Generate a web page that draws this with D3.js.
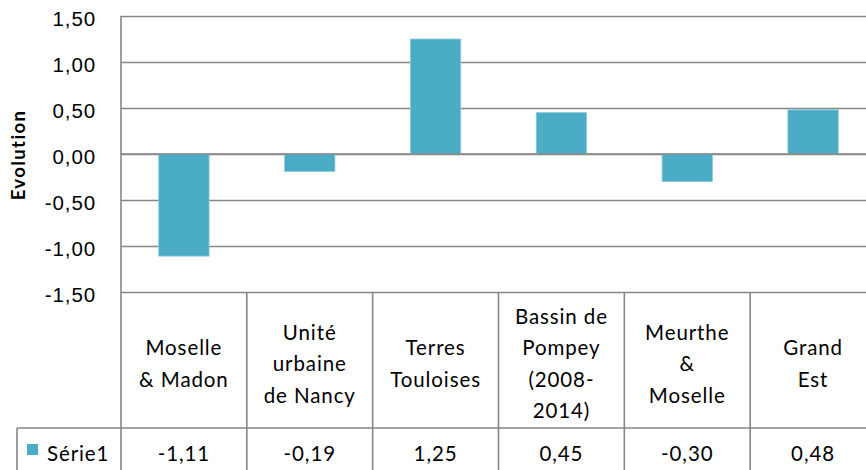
<!DOCTYPE html>
<html>
<head>
<meta charset="utf-8">
<script src="https://cdn.jsdelivr.net/npm/d3@7"></script>
<style>
    body { margin: 0; background: #fff; }
    svg { display: block; font-family: Lato, "Open Sans", sans-serif; }
    text { fill: #000; }
</style>
</head>
<body>
<svg id="chart" width="866" height="470"></svg>
<script>
// data
const categories = ["Moselle & Madon", "Unité urbaine de Nancy", "Terres Touloises",
    "Bassin de Pompey (2008-2014)", "Meurthe & Moselle", "Grand Est"];
const categoryLines = [
    ["Moselle", "& Madon"],
    ["Unité", "urbaine", "de Nancy"],
    ["Terres", "Touloises"],
    ["Bassin de", "Pompey", "(2008-", "2014)"],
    ["Meurthe", "&", "Moselle"],
    ["Grand", "Est"]
];
const values = [-1.11, -0.19, 1.25, 0.45, -0.30, 0.48];
const yTicks = [-1.5, -1.0, -0.5, 0, 0.5, 1.0, 1.5];
const seriesName = "Série1";
const yLabel = "Evolution";

//** SETUP *****************************************
const width = 866, height = 470;
const PLOT = { LEFT: 121, RIGHT: 876, TOP: 16, BOTTOM: 292 };
const TABLE = { ROW: 428, LEFT: 17 };
const gridColour = "#878787";
const barColour = "#4BACC6";
const fontSize = "20.5px";
const spacing = "0.9px";

let svg = d3.select("#chart");
let chart = svg.append("g");

// french number format, plain hyphen for negatives
const fr = d3.formatLocale({ decimal: ",", thousands: " ", grouping: [3], currency: ["", "€"], minus: "-" });
const fmt = fr.format(".2f");

//** SCALES *****************************************
let yScale = d3.scaleLinear()
    .domain([-1.5, 1.5])
    .range([PLOT.BOTTOM, PLOT.TOP]);

// table columns
let colScale = d3.scaleBand()
    .domain(categories)
    .range([PLOT.LEFT, PLOT.RIGHT]);

// bars (Excel gap width 150%)
let xScale = d3.scaleBand()
    .domain(categories)
    .range([PLOT.LEFT, PLOT.RIGHT])
    .paddingInner(0.6)
    .paddingOuter(0.3);

//** AXIS / GRID *****************************************
let yAxis = d3.axisLeft(yScale)
    .tickValues(yTicks)
    .tickFormat(fmt)
    .tickSize(-(PLOT.RIGHT - PLOT.LEFT))
    .tickPadding(25);

let yAxisGroup = chart.append("g")
    .attr("transform", "translate(" + PLOT.LEFT + ",0)")
    .call(yAxis);

yAxisGroup.select(".domain").remove();
yAxisGroup.selectAll(".tick line")
    .attr("stroke", gridColour)
    .attr("stroke-width", 1.6);
yAxisGroup.selectAll(".tick text")
    .attr("dy", "0.47em")
    .style("font-size", fontSize)
    .style("letter-spacing", spacing)
    .style("fill", "#000");

chart.append("text")
    .attr("text-anchor", "middle")
    .attr("transform", "translate(25," + 155 + ") rotate(-90)")
    .style("font-size", "18.5px")
    .style("font-weight", "bold")
    .style("letter-spacing", "1.4px")
    .text(yLabel);

//** BARS *****************************************
chart.append("g")
    .selectAll("rect")
    .data(values)
    .enter()
    .append("rect")
    .attr("x", (d, i) => xScale(categories[i]))
    .attr("y", d => yScale(Math.max(0, d)))
    .attr("width", xScale.bandwidth())
    .attr("height", d => Math.abs(yScale(d) - yScale(0)))
    .attr("fill", barColour)
    .attr("stroke", "#8fcadb")
    .attr("stroke-width", 0.8);

// zero line on top of the bars
chart.append("line")
    .attr("x1", PLOT.LEFT).attr("x2", PLOT.RIGHT)
    .attr("y1", yScale(0)).attr("y2", yScale(0))
    .attr("stroke", gridColour)
    .attr("stroke-width", 1.6);

// vertical axis line
chart.append("line")
    .attr("x1", PLOT.LEFT).attr("x2", PLOT.LEFT)
    .attr("y1", PLOT.TOP).attr("y2", height + 5)
    .attr("stroke", gridColour)
    .attr("stroke-width", 1.6);

//** DATA TABLE *****************************************
let table = chart.append("g");

// column separators
table.selectAll(".col_line")
    .data(categories)
    .enter()
    .append("line")
    .attr("x1", d => colScale(d) + colScale.bandwidth())
    .attr("x2", d => colScale(d) + colScale.bandwidth())
    .attr("y1", PLOT.BOTTOM)
    .attr("y2", height + 5)
    .attr("stroke", gridColour)
    .attr("stroke-width", 1.6);

table.append("line")
    .attr("x1", TABLE.LEFT).attr("x2", PLOT.RIGHT)
    .attr("y1", TABLE.ROW).attr("y2", TABLE.ROW)
    .attr("stroke", gridColour)
    .attr("stroke-width", 1.6);

table.append("line")
    .attr("x1", TABLE.LEFT).attr("x2", TABLE.LEFT)
    .attr("y1", TABLE.ROW).attr("y2", height + 5)
    .attr("stroke", gridColour)
    .attr("stroke-width", 1.6);

// header labels
const lineHeight = 31.5;
const headerMid = 371;
categoryLines.forEach((lines, i) => {
    let t = table.append("text")
        .attr("text-anchor", "middle")
        .style("font-size", fontSize)
        .style("letter-spacing", spacing);
    let cx = colScale(categories[i]) + colScale.bandwidth() / 2;
    let y0 = headerMid - (lines.length - 1) / 2 * lineHeight;
    lines.forEach((l, j) => {
        t.append("tspan")
            .attr("x", cx)
            .attr("y", y0 + j * lineHeight)
            .text(l);
    });
});

// values row
table.selectAll(".val")
    .data(values)
    .enter()
    .append("text")
    .attr("x", (d, i) => colScale(categories[i]) + colScale.bandwidth() / 2)
    .attr("y", 461)
    .attr("text-anchor", "middle")
    .style("font-size", fontSize)
    .style("letter-spacing", spacing)
    .text(d => fmt(d));

// legend key
table.append("rect")
    .attr("x", 27).attr("y", 444)
    .attr("width", 11).attr("height", 11)
    .attr("fill", barColour);

table.append("text")
    .attr("x", 47)
    .attr("y", 461)
    .style("font-size", fontSize)
    .style("letter-spacing", spacing)
    .text(seriesName);
</script>
</body>
</html>
